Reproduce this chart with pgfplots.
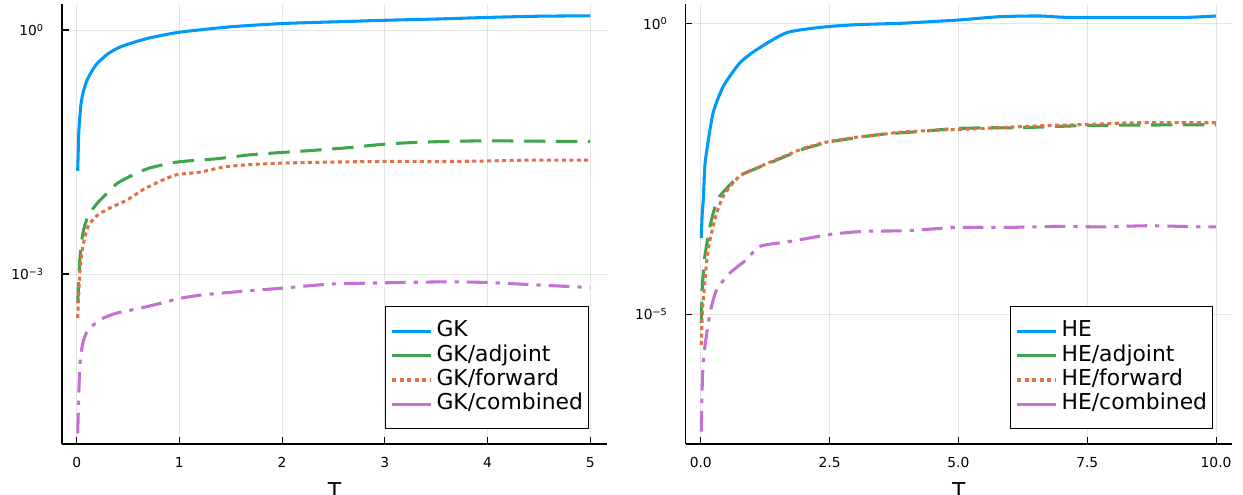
\documentclass[border=0pt]{standalone}
\usepackage{fontspec}
\setmainfont{DejaVu Sans}
\usepackage{pgfplots}
\pgfplotsset{compat=1.18}
\definecolor{jblue}{HTML}{009AFA}
\definecolor{jorange}{HTML}{E36F47}
\definecolor{jgreen}{HTML}{3EA44E}
\definecolor{jpurple}{HTML}{C371D2}
\pgfplotsset{
  jstyle/.style={
    scale only axis, height=330pt,
    yminorticks=false, xminorticks=false,
    axis x line*=bottom, axis y line*=left,
    axis line style={-, line width=1pt, black},
    tick align=inside, major tick length=5pt,
    tick style={black, line width=0.8pt},
    grid=major,
    major grid style={black, opacity=0.1, line width=0.6pt},
    xticklabel style={font=\fontsize{10.35}{12}\selectfont, inner sep=0pt, anchor=north, yshift=-10pt},
    yticklabel style={font=\fontsize{10.35}{12}\selectfont, inner sep=0pt, anchor=east, xshift=-13.5pt},
    xlabel={T},
    xlabel style={font=\fontsize{16.4}{18}\selectfont, inner sep=0pt, anchor=north, at={(axis description cs:0.5,0)}, yshift=-28.5pt},
    legend cell align=left,
    legend style={anchor=south east, draw=black, line width=0.8pt,
      font=\fontsize{16.4}{18}\selectfont, inner xsep=4.3pt, inner ysep=9.3pt,
      row sep=0pt, column sep=3pt,
      nodes={inner sep=0pt, text height=13.2pt, text depth=5pt}},
    legend image code/.code={\draw[##1] (0pt,0pt) -- (29pt,0pt);},
    every axis plot/.append style={line width=2.3pt, line join=round, smooth, tension=0.4},
  },
  sblue/.style={jblue, solid},
  sgreen/.style={jgreen, dash pattern=on 16pt off 8pt, legend image post style={solid}},
  sorange/.style={jorange, dash pattern=on 3pt off 2.6pt},
  spurple/.style={jpurple, dash pattern=on 15.5pt off 6pt on 3.2pt off 6pt, legend image post style={solid}},
}
\begin{document}
\begin{tikzpicture}
\begin{axis}[ymode=log, jstyle, at={(46.5pt,38.25pt)}, anchor=south west, width=408.75pt,
  xmin=-0.143, xmax=5.164, ymin=8.13e-6, ymax=2.09,
  xtick={0,1,2,3,4,5}, xticklabels={0,1,2,3,4,5},
  ytick={0.001,1}, yticklabels={{10\textsuperscript{−3}},{10\textsuperscript{0}}},
  legend style={at={(0.9675,0.0334)}}]
\addplot[sblue] coordinates {
(0.01,0.0186) (0.02,0.054) (0.03,0.083) (0.04,0.117) (0.06,0.166) (0.1,0.240)
(0.15,0.316) (0.2,0.389) (0.3,0.505) (0.4,0.600) (0.5,0.670) (0.7,0.794)
(1.0,0.94) (1.5,1.096) (2.0,1.202) (2.5,1.259) (3.0,1.318) (3.5,1.365)
(4.0,1.429) (4.5,1.479) (5.0,1.496)};
\addlegendentry{GK}
\addplot[sgreen] coordinates {
(0.01,4.37e-4) (0.03,1.48e-3) (0.06,3.16e-3) (0.11,5.13e-3) (0.2,7.41e-3)
(0.3,0.0100) (0.4,0.01318) (0.55,0.01660) (0.7,0.01995) (0.9,0.02291)
(1.0,0.02399) (1.17,0.02512) (1.36,0.02612) (1.69,0.02924) (2.0,0.03126)
(2.3,0.03311) (2.63,0.03565) (3.0,0.03954) (3.28,0.04140) (3.6,0.04266)
(4.0,0.04345) (4.4,0.04305) (5.0,0.04266)};
\addlegendentry{GK/adjoint}
\addplot[sorange] coordinates {
(0.01,2.88e-4) (0.03,1.023e-3) (0.06,2.188e-3) (0.11,3.80e-3) (0.19,5.13e-3)
(0.32,6.46e-3) (0.49,8.13e-3) (0.65,0.01096) (0.81,0.01380) (0.97,0.01660)
(1.2,0.01791) (1.43,0.02065) (1.66,0.02203) (2.0,0.02312) (2.47,0.02377)
(3.0,0.02421) (3.6,0.02421) (4.0,0.02455) (4.4,0.02512) (5.0,0.02512)};
\addlegendentry{GK/forward}
\addplot[spurple] coordinates {
(0.01,1.096e-5) (0.03,7.24e-5) (0.06,1.413e-4) (0.11,2.042e-4) (0.23,2.754e-4)
(0.39,3.311e-4) (0.62,3.802e-4) (0.88,4.571e-4) (1.0,5.012e-4) (1.2,5.495e-4)
(1.33,5.702e-4) (1.66,6.209e-4) (2.0,6.699e-4) (2.47,7.516e-4) (3.0,7.798e-4)
(3.6,8.017e-4) (4.0,7.870e-4) (4.4,7.430e-4) (5.0,6.823e-4)};
\addlegendentry{GK/combined}
\end{axis}
\begin{axis}[ymode=log, jstyle, at={(514.3pt,38.25pt)}, anchor=south west, width=409.5pt,
  xmin=-0.291, xmax=10.304, ymin=5.85e-8, ymax=2.15,
  xtick={0,2.5,5,7.5,10}, xticklabels={0.0,2.5,5.0,7.5,10.0},
  ytick={1e-5,1}, yticklabels={{10\textsuperscript{−5}},{10\textsuperscript{0}}},
  legend style={at={(0.9663,0.0334)}}]
\addplot[sblue] coordinates {
(0.01,2.042e-4) (0.03,5.62e-4) (0.05,9.33e-4) (0.08,3.55e-3) (0.12,6.76e-3)
(0.24,0.02884) (0.44,0.08318) (0.76,0.2089) (1.09,0.3548) (1.67,0.6918)
(2.38,0.8630) (3.03,0.9484) (3.87,1.0) (4.32,1.052) (5.0,1.140) (5.81,1.303)
(6.58,1.337) (7.1,1.268) (8.4,1.268) (9.43,1.268) (10,1.337)};
\addlegendentry{HE}
\addplot[sgreen] coordinates {
(0.01,7.08e-6) (0.03,2.818e-5) (0.05,5.13e-5) (0.08,1.0e-4) (0.18,3.236e-4)
(0.28,7.08e-4) (0.37,1.072e-3) (0.63,1.905e-3) (0.80,2.512e-3) (1.18,3.491e-3)
(1.34,3.981e-3) (1.77,5.754e-3) (1.96,6.761e-3) (2.35,8.511e-3) (2.57,9.397e-3)
(3.0,0.01072) (3.22,0.01148) (3.61,0.01259) (4.26,0.01380) (4.9,0.01549)
(5.55,0.01600) (6.0,0.01596) (6.55,0.01641) (7.5,0.01754) (8.4,0.01778)
(9.69,0.01803) (10,0.01803)};
\addlegendentry{HE/adjoint}
\addplot[sorange] coordinates {
(0.01,2.951e-6) (0.03,1e-5) (0.05,1.778e-5) (0.12,8.71e-5) (0.18,1.905e-4)
(0.31,5.495e-4) (0.44,1.072e-3) (0.63,1.820e-3) (0.80,2.512e-3) (1.18,3.548e-3)
(1.34,4.074e-3) (1.77,5.888e-3) (1.96,6.918e-3) (2.35,8.710e-3) (2.57,9.550e-3)
(3.0,0.01096) (3.61,0.01259) (3.87,0.01346) (4.5,0.01445) (5.0,0.01496)
(6.0,0.01641) (6.78,0.01754) (7.5,0.01824) (8.4,0.01950) (10,0.01950)};
\addlegendentry{HE/forward}
\addplot[spurple] coordinates {
(0.01,9.55e-8) (0.03,6.31e-7) (0.05,1.622e-6) (0.08,2.754e-6) (0.18,1.047e-5)
(0.31,2.630e-5) (0.57,5.129e-5) (0.89,8.710e-5) (1.09,1.380e-4) (1.28,1.563e-4)
(1.73,1.778e-4) (2.51,2.344e-4) (3.16,2.649e-4) (4.0,2.723e-4) (4.97,3.090e-4)
(6.0,3.105e-4) (7.04,3.236e-4) (7.75,3.162e-4) (8.72,3.311e-4) (9.69,3.162e-4)
(10,3.162e-4)};
\addlegendentry{HE/combined}
\end{axis}
\pgfresetboundingbox
\useasboundingbox (0,0) rectangle (932.25pt,371.25pt);
\end{tikzpicture}
\end{document}
